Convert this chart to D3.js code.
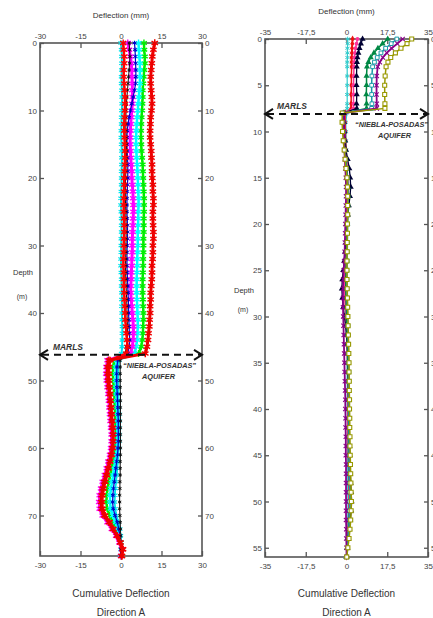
<!DOCTYPE html>
<html><head><meta charset="utf-8">
<script src="https://cdn.jsdelivr.net/npm/d3@7"></script>
<style>body{margin:0;background:#fff;} svg{display:block;}</style>
</head><body><svg id="c" width="433" height="618"></svg>
<script>
// ---------------- DATA ----------------
// Left borehole (depth in m, cumulative deflection in mm)
const leftDepths = [0,1,2,3,4,5,6,7,8,9,10,11,12,13,14,15,16,17,18,19,20,21,22,23,24,25,26,27,28,29,30,31,32,33,34,35,36,37,38,39,40,41,42,43,44,45,46,47,48,49,50,51,52,53,54,55,56,57,58,59,60,61,62,63,64,65,66,67,68,69,70,71,72,73,74,75,76];
const leftXTicks = [-30,-15,0,15,30];
const leftYTicks = [0,10,20,30,40,50,60,70];
const leftMarls = 46.2;

const leftCyanB = [0,0.2,0.3,0.3,0.3,0.2,0.2,0.3,0.4,0.4, 0.3,0.2,0.2,0.1,0.1,0.2,0.3,0.3,0.3,0.2, 0.2,0.2,0.1,0,0,0.1,0.2,0.2,0.2,0.1, 0.1,0.1,0,0,0.1,0.2,0.2,0.3,0.3,0.3, 0.4,0.4,0.5,0.5,0.5,0.4,0.2, -0.8,-1,-1.1,-1.1,-1,-1,-0.9,-0.9,-0.8,-0.8, -0.8,-0.8,-0.8,-0.9,-1,-1.2,-1.4,-1.6,-1.9,-2.1, -2.3,-2.4,-2.2,-1.7,-1,-0.5,-0.2,0,0,0];
const leftGreen = [8.5,8.6,8.8,8.8,8.6,8.4,8.2,8,8,7.9, 7.8,7.6,7.5,7.4,7.4,7.5,7.6,7.8,8,8.1, 8.2,8.3,8.4,8.5,8.5,8.5,8.4,8.4,8.4,8.3, 8.3,8.3,8.2,8.2,8.1,8,8,8,8.1,8.2, 8.3,8.3,8.2,8.1,7.9,7.5,6.5, -2.5,-2.9,-3,-2.9,-2.7,-2.5,-2.4,-2.3,-2.2,-2.1, -2,-2,-2,-2.2,-2.5,-3,-3.5,-4,-4.5,-5, -5.3,-5.4,-5.1,-4.2,-3,-1.8,-0.9,-0.2,0.4,0.2];
const leftCyanA = [6.5,6.6,6.8,7,7,7,7,6.8,6.6,6.4, 6.2,6,5.8,5.7,5.6,5.6,5.7,5.8,6,6.1, 6.2,6.3,6.4,6.5,6.5,6.4,6.4,6.3,6.2,6.2, 6.2,6.1,6,6,5.9,5.8,5.8,5.8,5.9,6, 6.1,6.2,6.2,6.1,6,5.6,5, -1.5,-1.8,-1.9,-1.9,-1.8,-1.7,-1.6,-1.5,-1.4,-1.4, -1.4,-1.4,-1.5,-1.6,-1.8,-2.1,-2.5,-2.9,-3.3,-3.7, -4,-4.1,-3.8,-3,-2,-1.2,-0.6,-0.2,0.2,0];
const leftMagenta = [2.5,3,3.5,3.8,4,4,4.2,4.2,4.3,4.2, 4,3.8,3.6,3.5,3.4,3.4,3.5,3.6,3.8,4, 4,4.2,4.4,4.5,4.6,4.6,4.5,4.4,4.3,4.2, 4.2,4.2,4,4,3.8,3.8,3.6,3.6,3.8,4, 4.2,4.4,4.6,4.6,4.5,4.2,3.5, -5,-5.4,-5.5,-5.3,-5,-4.7,-4.5,-4.3,-4.1,-3.9, -3.7,-3.5,-3.5,-3.7,-4.1,-4.7,-5.3,-6,-6.8,-7.4, -7.9,-8.1,-7.9,-6.8,-5,-3.4,-1.8,-0.6,0.3,0];
const leftBlue = [5,5.2,5.3,5.4,5.5,5.5,5.4,5,4.5,4, 3.5,3,2.6,2.3,2.2,2.2,2.3,2.4,2.5,2.5, 2.5,2.4,2.3,2.2,2.2,2.2,2.3,2.4,2.4,2.4, 2.3,2.2,2.2,2.2,2.3,2.4,2.5,2.6,2.7,2.8, 2.8,2.9,3,3.1,3.2,3,2.5, -1.2,-1.5,-1.6,-1.6,-1.5,-1.4,-1.3,-1.2,-1.1,-1, -1,-1,-1,-1.1,-1.3,-1.6,-1.9,-2.2,-2.5,-2.8, -3,-3.1,-2.9,-2.2,-1.4,-0.8,-0.4,-0.1,0,0];
const leftBlack = [3,3.2,3.3,3.2,3,2.8,2.6,2.4,2.2,2, 1.9,1.8,1.8,1.8,1.9,2,2,2,1.9,1.8, 1.7,1.6,1.6,1.6,1.7,1.8,1.8,1.9,1.9,1.9, 1.8,1.8,1.7,1.7,1.7,1.8,1.9,2,2.1,2.2, 2.2,2.3,2.4,2.4,2.3,2,1.5, -0.3,-0.3,-0.3,-0.3,-0.3,-0.2,-0.2,-0.2,-0.2,-0.2, -0.2,-0.2,-0.2,-0.2,-0.2,-0.3,-0.3,-0.3,-0.4,-0.4, -0.5,-0.5,-0.5,-0.4,-0.3,-0.2,-0.1,0,0,0];
const leftRedInner = [0.8,1,1.2,1.2,1,1,1.2,1.3,1.5,1.5, 1.4,1.3,1.2,1.2,1.3,1.4,1.5,1.5,1.4,1.3, 1.2,1.2,1.1,1,1,1,1.1,1.2,1.2,1.1, 1,1,0.9,0.9,1,1,1.1,1.2,1.3,1.4, 1.5,1.6,1.8,2,2.2,2.4,2, -4,-4.4,-4.5,-4.4,-4.2,-4,-3.8,-3.6,-3.4,-3.2, -3,-2.9,-2.9,-3,-3.4,-4,-4.6,-5.2,-5.8,-6.4, -6.8,-7,-6.8,-5.8,-4.2,-2.8,-1.4,-0.2,0.8,0.4];
const leftRedOuter = [12.5,12,11.6,11.4,11.2,11,11,11.2,11.4,11.5, 11.3,11,10.9,10.8,10.8,11,11.2,11.3,11.5,11.5, 11.6,11.8,11.8,12,12,11.8,11.8,11.9,12,12, 11.8,11.8,11.7,11.5,11.5,11.4,11.2,11,11,10.8, 10.8,10.6,10.5,10.2,10,9.6,9, -4.5,-5,-5,-4.8,-4.5,-4.2,-4,-3.8,-3.6,-3.4, -3.2,-3,-3,-3.2,-3.6,-4.2,-4.8,-5.5,-6.2,-6.8, -7.2,-7.4,-7.2,-6.2,-4.5,-3,-1.5,-0.3,0.6,0.2];

// Right borehole
const rightDepths = [0,0.5,1,1.5,2,2.5,3,4,5,6,7,7.5,8,9,10,11,12,13,14,15,16,17,18,19,20,21,22,23,24,25,26,27,28,29,30,31,32,33,34,35,36,37,38,39,40,41,42,43,44,45,46,47,48,49,50,51,52,53,54,55,56];
const rightXTicks = [-35,-17.5,0,17.5,35];
const rightYTicks = [0,5,10,15,20,25,30,35,40,45,50,55];
const rightMarls = 8.1;

const rightCyan = [0.5,0.5,0.4,0.4,0.4,0.3,0.3,0.3,0.3,0.3,0.3,0.3,0.2, -0.3,-0.2,-0.2,-0.1,0,0.1,0.2,0.2,0.2,0.1, 0.1,0,0,0,-0.1,-0.2,-0.3,-0.3,-0.4,-0.4, -0.3,-0.2,-0.1,0,0.1,0.2,0.2,0.3,0.3,0.3, 0.3,0.3,0.4,0.4,0.4,0.4,0.4,0.5,0.5,0.5, 0.5,0.6,0.6,0.5,0.4,0.3,0.2,0];
const rightRed = [2.6,2.5,2.4,2.3,2.2,2.2,2.2,2.1,2.1,2,2,2,-0.5, -0.6,-0.5,-0.4,-0.2,0,0.2,0.4,0.5,0.4,0.3, 0.2,0.1,0,0,-0.2,-0.4,-0.5,-0.6,-0.6,-0.5, -0.4,-0.2,0,0.2,0.3,0.4,0.5,0.5,0.6,0.6, 0.6,0.6,0.7,0.7,0.7,0.8,0.8,0.9,1,1, 1.1,1.1,1,0.9,0.7,0.5,0.3,0];
const rightPink = [4.7,4.3,3.9,3.6,3.4,3.3,3.2,3.1,3,3,3,3,-0.8, -0.9,-0.8,-0.6,-0.4,-0.1,0.2,0.5,0.6,0.5,0.4, 0.3,0.1,0,-0.1,-0.3,-0.5,-0.7,-0.8,-0.8,-0.7, -0.5,-0.3,-0.1,0.1,0.3,0.4,0.5,0.6,0.6,0.7, 0.7,0.7,0.8,0.8,0.9,0.9,1,1,1.1,1.2, 1.3,1.3,1.2,1,0.8,0.6,0.3,0];
const rightNavy = [6.9,6.2,5.6,5.1,4.7,4.5,4.4,4.3,4.3,4.4,4.3,4.4,-1, -1.1,-0.9,-0.6,-0.2,0.5,1.2,1.6,1.8,1.5,1, 0.6,0.3,0.1,-0.2,-0.6,-1,-1.4,-1.8,-2,-1.8, -1.4,-0.9,-0.4,0,0.3,0.5,0.6,0.7,0.8,0.9, 0.9,1,1,1.1,1.2,1.3,1.4,1.5,1.6,1.8, 2,2.2,2,1.6,1.2,0.8,0.4,0];
const rightGreen = [17.7,15.5,13.5,11.8,10.4,9.4,8.8,8.6,8.6,8.5,8.6,8.6,-1.2, -1.3,-1.2,-1,-0.7,-0.3,0.1,0.4,0.6,0.6,0.5, 0.4,0.3,0.2,0.1,0,-0.1,-0.2,-0.3,-0.3,-0.2, -0.1,0,0.2,0.3,0.4,0.5,0.6,0.7,0.7,0.8, 0.8,0.9,0.9,1,1,1.1,1.1,1.2,1.2,1.3, 1.4,1.4,1.3,1.1,0.9,0.6,0.3,0];
const rightTeal = [21.6,19.2,16.8,14.8,13.2,12,11.2,10.9,10.8,10.8,10.9,10.8,-1.5, -1.6,-1.4,-1.2,-0.9,-0.5,-0.1,0.3,0.5,0.6,0.6, 0.5,0.5,0.4,0.4,0.3,0.3,0.2,0.2,0.2,0.3, 0.4,0.5,0.6,0.7,0.8,0.9,0.9,1,1,1, 1,1,1.1,1.1,1.1,1.2,1.2,1.2,1.3,1.3, 1.4,1.4,1.3,1.2,1,0.7,0.4,0];
const rightPurple = [24.1,21.8,19.4,17.3,15.6,14.3,13.4,13,12.9,12.9,13,13,-1, -1.2,-1.1,-1,-0.9,-0.7,-0.5,-0.3,-0.2,-0.2,-0.3, -0.4,-0.5,-0.6,-0.7,-0.8,-1,-1.2,-1.4,-1.5,-1.5, -1.5,-1.4,-1.3,-1.2,-1.1,-1,-0.9,-0.8,-0.7,-0.6, -0.5,-0.5,-0.4,-0.4,-0.3,-0.3,-0.3,-0.2,-0.2,-0.2, -0.2,-0.2,-0.2,-0.2,-0.1,-0.1,0,0];
const rightOlive = [28,26,23.4,21,19,17.8,17,16.6,16.4,16.4,16.5,16.5,-1.8, -1.9,-1.7,-1.4,-1,-0.6,-0.2,0.2,0.4,0.5,0.5, 0.5,0.4,0.4,0.3,0.3,0.2,0.2,0.2,0.3,0.4, 0.5,0.6,0.7,0.8,0.9,1,1.1,1.1,1.2,1.2, 1.3,1.3,1.4,1.4,1.5,1.5,1.6,1.7,1.8,1.9, 2,2.1,2,1.8,1.5,1.1,0.6,0.1];

// ---------------- DRAWING ----------------
const svg = d3.select('#c');
const FONT = "'Liberation Sans', Arial, sans-serif";
const ast = d3.symbolAsterisk || d3.symbolCross;
const times = d3.symbolTimes || d3.symbolCross;

function drawPanel(o) {
  const x = d3.scaleLinear().domain(o.xDomain).range([o.x0, o.x1]);
  const y = d3.scaleLinear().domain(o.yDomain).range([o.y0, o.y1]);
  const g = svg.append('g');

  // frame
  g.append('rect').attr('x', o.x0).attr('y', o.y0)
    .attr('width', o.x1 - o.x0).attr('height', o.y1 - o.y0)
    .attr('fill', 'none').attr('stroke', '#555').attr('stroke-width', 1.6);

  const styleAxis = (sel) => {
    sel.select('.domain').remove();
    sel.selectAll('line').attr('stroke', '#555').attr('stroke-width', 1.3);
    sel.selectAll('text').attr('font-family', FONT).attr('font-size', 8).attr('fill', '#444');
  };
  const fmt = o.fmt;
  g.append('g').attr('transform', `translate(0,${o.y0})`)
    .call(d3.axisTop(x).tickValues(o.xTicks).tickSize(-5).tickPadding(4).tickFormat(fmt)).call(styleAxis);
  g.append('g').attr('transform', `translate(0,${o.y1})`)
    .call(d3.axisBottom(x).tickValues(o.xTicks).tickSize(-5).tickPadding(6).tickFormat(fmt)).call(styleAxis);
  g.append('g').attr('transform', `translate(${o.x0},0)`)
    .call(d3.axisLeft(y).tickValues(o.yTicks).tickSize(-4).tickPadding(3)).call(styleAxis);
  g.append('g').attr('transform', `translate(${o.x1},0)`)
    .call(d3.axisRight(y).tickValues(o.yTicks).tickSize(-4).tickPadding(3)).call(styleAxis);

  // series
  o.series.forEach(s => {
    const pts = o.depths.map((d, i) => [s.values[i], d]).filter(p => p[0] != null);
    g.append('path')
      .attr('d', d3.line().x(p => x(p[0])).y(p => y(p[1]))(pts))
      .attr('fill', 'none').attr('stroke', s.color).attr('stroke-width', s.lw || 1);
    const sym = d3.symbol().type(s.symbol).size(s.size);
    g.append('g').selectAll('path').data(pts).join('path')
      .attr('transform', p => `translate(${x(p[0])},${y(p[1])})`)
      .attr('d', sym)
      .attr('fill', s.fill ? s.color : (s.hollow ? '#fff' : 'none'))
      .attr('stroke', s.stroke ? s.color : 'none')
      .attr('stroke-width', s.sw || 1);
  });

  // MARLS dashed arrow
  const ya = y(o.marls);
  g.append('line').attr('x1', o.x0 + 2).attr('x2', o.x1 - 2).attr('y1', ya).attr('y2', ya)
    .attr('stroke', '#111').attr('stroke-width', 2).attr('stroke-dasharray', '7,5');
  g.append('path').attr('d', `M${o.x0 + 8},${ya - 5} L${o.x0},${ya} L${o.x0 + 8},${ya + 5}`)
    .attr('fill', 'none').attr('stroke', '#111').attr('stroke-width', 2);
  g.append('path').attr('d', `M${o.x1 - 8},${ya - 5} L${o.x1},${ya} L${o.x1 - 8},${ya + 5}`)
    .attr('fill', 'none').attr('stroke', '#111').attr('stroke-width', 2);

  const lab = (t, xx, yy, size, len, anchor) => {
    const e = g.append('text').attr('x', xx).attr('y', yy).text(t)
      .attr('font-family', FONT).attr('font-size', size).attr('font-style', 'italic')
      .attr('font-weight', 'bold').attr('fill', '#333').attr('text-anchor', anchor || 'start');
    if (len) e.attr('textLength', len).attr('lengthAdjust', 'spacingAndGlyphs');
  };
  lab('MARLS', o.marlsX, ya - 5, 8.5, 30);
  lab('\u201CNIEBLA-POSADAS\u201D', o.aqX, ya + 13, 8, 73);
  lab('AQUIFER', o.aqX + o.aqOff, ya + 24, 8, 33);

  // titles
  const txt = (t, xx, yy, size) => g.append('text').attr('x', xx).attr('y', yy).text(t)
    .attr('font-family', FONT).attr('font-size', size).attr('fill', '#333').attr('text-anchor', 'middle');
  const cx = x(0);
  txt('Deflection (mm)', cx, o.y0 - 25, 8);
  txt('Cumulative Deflection', cx, 597, 10);
  txt('Direction  A', cx, 616, 10);
  txt('Depth', o.depthX, o.depthY, 7.5);
  txt('(m)', o.depthX - 1, o.depthY + 22 * o.depthGap, 7);
}

drawPanel({
  xDomain: [-30, 30], yDomain: [0, 76], x0: 40, x1: 202, y0: 43, y1: 556,
  xTicks: leftXTicks, yTicks: leftYTicks, fmt: d => String(d),
  depths: leftDepths, marls: leftMarls, marlsX: 53, aqX: 123, aqOff: 19,
  depthX: 23, depthY: 275, depthGap: 1.1,
  series: [
    { values: leftCyanB, color: '#00e5ee', symbol: ast, size: 26, stroke: true, sw: 1.2, lw: 2 },
    { values: leftGreen, color: '#00ee00', symbol: ast, size: 32, stroke: true, sw: 1.4, lw: 2.5 },
    { values: leftCyanA, color: '#00ffff', symbol: ast, size: 32, stroke: true, sw: 1.4, lw: 2.5 },
    { values: leftMagenta, color: '#ff00ff', symbol: ast, size: 36, stroke: true, sw: 1.4, lw: 3 },
    { values: leftBlue, color: '#0000cc', symbol: ast, size: 14, stroke: true, sw: 1, lw: 1.2 },
    { values: leftBlack, color: '#111111', symbol: ast, size: 10, stroke: true, sw: 0.9, lw: 1 },
    { values: leftRedInner, color: '#ff0000', symbol: ast, size: 36, stroke: true, sw: 1.4, lw: 2.5 },
    { values: leftRedOuter, color: '#ee0000', symbol: ast, size: 38, stroke: true, sw: 1.5, lw: 3 }
  ]
});

drawPanel({
  xDomain: [-35, 35], yDomain: [0, 56], x0: 265, x1: 428, y0: 39, y1: 557,
  xTicks: rightXTicks, yTicks: rightYTicks, fmt: d => String(d).replace('.', ','),
  depths: rightDepths, marls: rightMarls, marlsX: 277, aqX: 355, aqOff: 23,
  depthX: 244, depthY: 293, depthGap: 0.85,
  series: [
    { values: rightCyan, color: '#33cccc', symbol: ast, size: 16, stroke: true, sw: 1, lw: 1.2 },
    { values: rightRed, color: '#ee1111', symbol: d3.symbolDiamond, size: 14, fill: true, lw: 1.5 },
    { values: rightPink, color: '#ff3399', symbol: d3.symbolCircle, size: 12, fill: true, lw: 1.5 },
    { values: rightNavy, color: '#000033', symbol: d3.symbolTriangle, size: 16, fill: true, lw: 1.3 },
    { values: rightGreen, color: '#008844', symbol: d3.symbolTriangle, size: 16, fill: true, lw: 1.5 },
    { values: rightTeal, color: '#1a9aa8', symbol: d3.symbolSquare, size: 14, hollow: true, stroke: true, sw: 1, lw: 1.5 },
    { values: rightPurple, color: '#880088', symbol: times, size: 14, stroke: true, sw: 1.1, lw: 1.8 },
    { values: rightOlive, color: '#999900', symbol: d3.symbolSquare, size: 16, hollow: true, stroke: true, sw: 1.1, lw: 1.5 }
  ]
});
</script>
</body></html>
